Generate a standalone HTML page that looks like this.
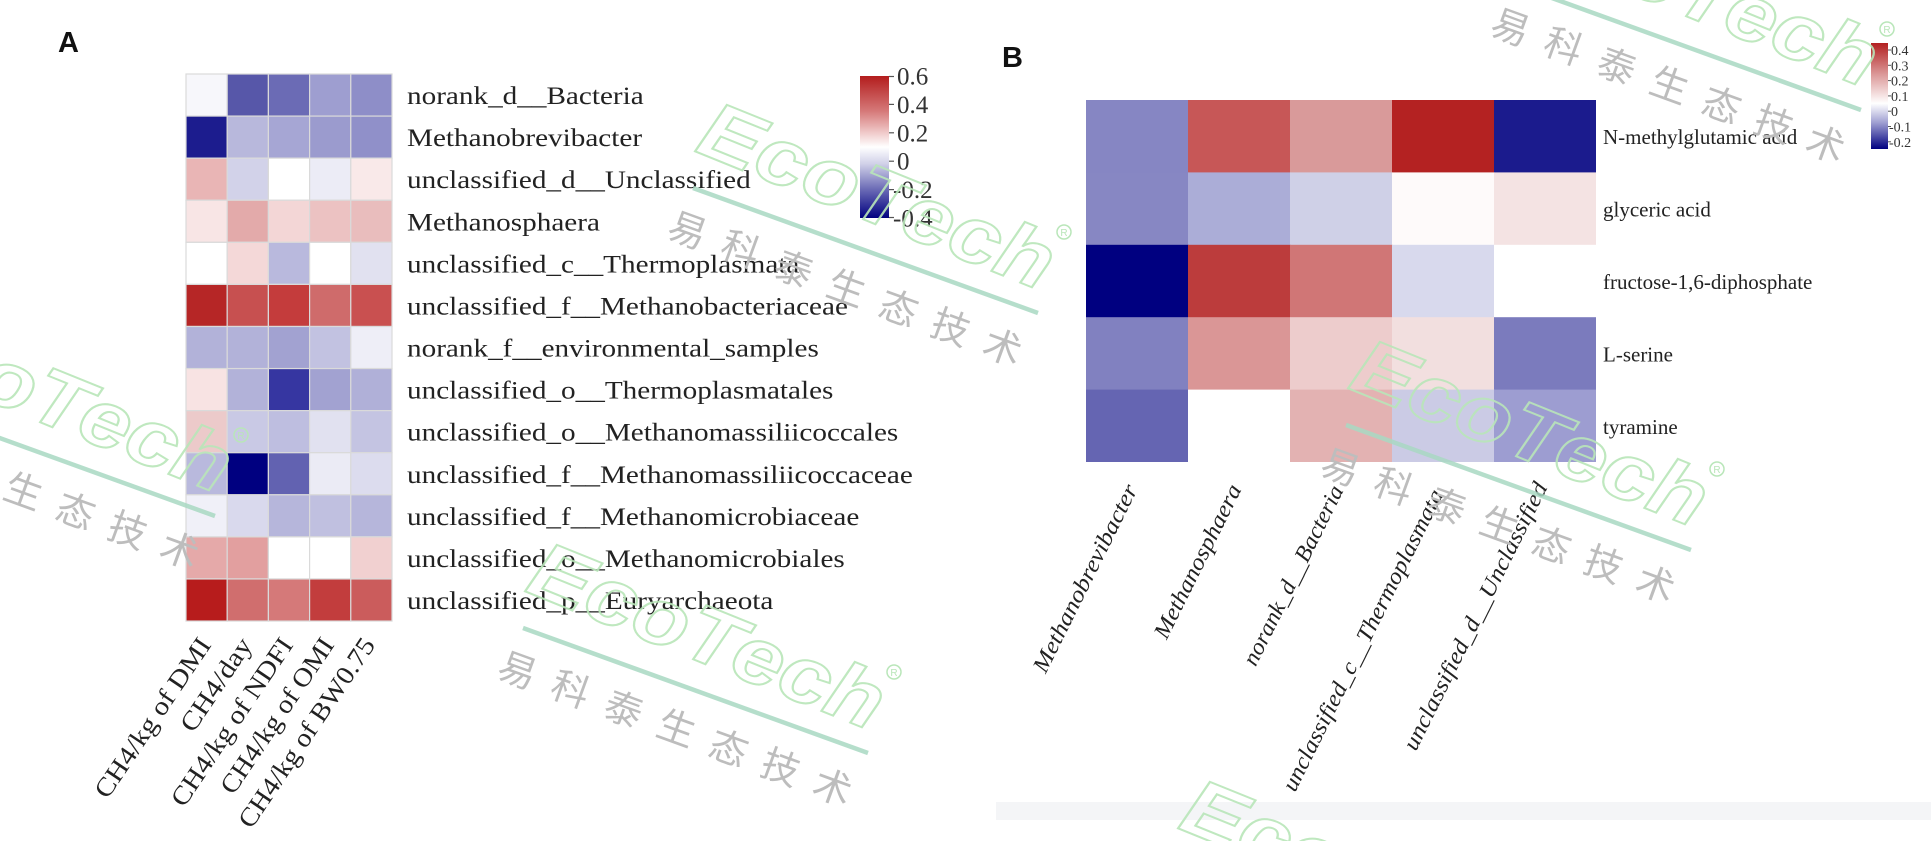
<!DOCTYPE html>
<html><head><meta charset="utf-8"><style>
html,body{margin:0;padding:0;background:#fff;width:1931px;height:841px;overflow:hidden;}
svg{display:block;}
</style></head><body>
<svg width="1931" height="841" viewBox="0 0 1931 841" xmlns="http://www.w3.org/2000/svg">
<defs>
<linearGradient id="cbA" x1="0" y1="0" x2="0" y2="1">
<stop offset="0" stop-color="#b31d1d"/><stop offset="0.25" stop-color="#d67a7a"/><stop offset="0.4" stop-color="#f0caca"/><stop offset="0.5" stop-color="#ffffff"/><stop offset="0.62" stop-color="#d0d0e8"/><stop offset="0.8" stop-color="#6a6ab5"/><stop offset="1" stop-color="#00007f"/>
</linearGradient>
<linearGradient id="cbB" x1="0" y1="0" x2="0" y2="1">
<stop offset="0" stop-color="#b22020"/><stop offset="0.3" stop-color="#dc9a9a"/><stop offset="0.57" stop-color="#ffffff"/><stop offset="0.75" stop-color="#a0a0d2"/><stop offset="1" stop-color="#000080"/>
</linearGradient>
<clipPath id="frame"><rect x="0" y="0" width="1931" height="841"/></clipPath>
</defs>
<rect width="1931" height="841" fill="#fff"/>

<!-- Panel labels -->
<text x="58" y="52" font-family="Liberation Sans, sans-serif" font-weight="bold" font-size="29" fill="#111">A</text>
<text x="1002" y="67" font-family="Liberation Sans, sans-serif" font-weight="bold" font-size="29" fill="#111">B</text>

<!-- Heatmap A -->
<g stroke="#dadada" stroke-width="1.2">
<rect x="186" y="74" width="41.2" height="42.08" fill="#f7f7fb"/><rect x="227.2" y="74" width="41.2" height="42.08" fill="#5757a9"/><rect x="268.4" y="74" width="41.2" height="42.08" fill="#6b6bb5"/><rect x="309.6" y="74" width="41.2" height="42.08" fill="#9e9ed0"/><rect x="350.8" y="74" width="41.2" height="42.08" fill="#8e8ec8"/>
<rect x="186" y="116.08" width="41.2" height="42.08" fill="#1c1c8e"/><rect x="227.2" y="116.08" width="41.2" height="42.08" fill="#b8b8dc"/><rect x="268.4" y="116.08" width="41.2" height="42.08" fill="#a6a6d4"/><rect x="309.6" y="116.08" width="41.2" height="42.08" fill="#9b9bce"/><rect x="350.8" y="116.08" width="41.2" height="42.08" fill="#9090c9"/>
<rect x="186" y="158.16" width="41.2" height="42.08" fill="#e9b5b5"/><rect x="227.2" y="158.16" width="41.2" height="42.08" fill="#d2d2e9"/><rect x="268.4" y="158.16" width="41.2" height="42.08" fill="#ffffff"/><rect x="309.6" y="158.16" width="41.2" height="42.08" fill="#ececf6"/><rect x="350.8" y="158.16" width="41.2" height="42.08" fill="#f9e9e9"/>
<rect x="186" y="200.24" width="41.2" height="42.08" fill="#f8e5e5"/><rect x="227.2" y="200.24" width="41.2" height="42.08" fill="#e3aaaa"/><rect x="268.4" y="200.24" width="41.2" height="42.08" fill="#f3d6d6"/><rect x="309.6" y="200.24" width="41.2" height="42.08" fill="#ecc2c2"/><rect x="350.8" y="200.24" width="41.2" height="42.08" fill="#e9bdbd"/>
<rect x="186" y="242.32" width="41.2" height="42.08" fill="#ffffff"/><rect x="227.2" y="242.32" width="41.2" height="42.08" fill="#f4d8d8"/><rect x="268.4" y="242.32" width="41.2" height="42.08" fill="#b9b9dd"/><rect x="309.6" y="242.32" width="41.2" height="42.08" fill="#ffffff"/><rect x="350.8" y="242.32" width="41.2" height="42.08" fill="#e1e1f0"/>
<rect x="186" y="284.4" width="41.2" height="42.08" fill="#b62626"/><rect x="227.2" y="284.4" width="41.2" height="42.08" fill="#c75050"/><rect x="268.4" y="284.4" width="41.2" height="42.08" fill="#c43c3c"/><rect x="309.6" y="284.4" width="41.2" height="42.08" fill="#cf6b6b"/><rect x="350.8" y="284.4" width="41.2" height="42.08" fill="#c95050"/>
<rect x="186" y="326.48" width="41.2" height="42.08" fill="#b2b2d9"/><rect x="227.2" y="326.48" width="41.2" height="42.08" fill="#b2b2d9"/><rect x="268.4" y="326.48" width="41.2" height="42.08" fill="#a2a2d1"/><rect x="309.6" y="326.48" width="41.2" height="42.08" fill="#c2c2e1"/><rect x="350.8" y="326.48" width="41.2" height="42.08" fill="#eeeef7"/>
<rect x="186" y="368.56" width="41.2" height="42.08" fill="#f8e3e3"/><rect x="227.2" y="368.56" width="41.2" height="42.08" fill="#b2b2d9"/><rect x="268.4" y="368.56" width="41.2" height="42.08" fill="#3636a1"/><rect x="309.6" y="368.56" width="41.2" height="42.08" fill="#a2a2d1"/><rect x="350.8" y="368.56" width="41.2" height="42.08" fill="#b0b0d8"/>
<rect x="186" y="410.64" width="41.2" height="42.08" fill="#eccaca"/><rect x="227.2" y="410.64" width="41.2" height="42.08" fill="#c9c9e5"/><rect x="268.4" y="410.64" width="41.2" height="42.08" fill="#bebee0"/><rect x="309.6" y="410.64" width="41.2" height="42.08" fill="#e1e1f0"/><rect x="350.8" y="410.64" width="41.2" height="42.08" fill="#c4c4e2"/>
<rect x="186" y="452.72" width="41.2" height="42.08" fill="#b9b9dd"/><rect x="227.2" y="452.72" width="41.2" height="42.08" fill="#000080"/><rect x="268.4" y="452.72" width="41.2" height="42.08" fill="#6262b1"/><rect x="309.6" y="452.72" width="41.2" height="42.08" fill="#ebebf5"/><rect x="350.8" y="452.72" width="41.2" height="42.08" fill="#dcdcee"/>
<rect x="186" y="494.8" width="41.2" height="42.08" fill="#f0f0f8"/><rect x="227.2" y="494.8" width="41.2" height="42.08" fill="#d9d9ed"/><rect x="268.4" y="494.8" width="41.2" height="42.08" fill="#b6b6db"/><rect x="309.6" y="494.8" width="41.2" height="42.08" fill="#c0c0e0"/><rect x="350.8" y="494.8" width="41.2" height="42.08" fill="#b6b6db"/>
<rect x="186" y="536.88" width="41.2" height="42.08" fill="#e5a9a9"/><rect x="227.2" y="536.88" width="41.2" height="42.08" fill="#e29f9f"/><rect x="268.4" y="536.88" width="41.2" height="42.08" fill="#ffffff"/><rect x="309.6" y="536.88" width="41.2" height="42.08" fill="#ffffff"/><rect x="350.8" y="536.88" width="41.2" height="42.08" fill="#f1d0d0"/>
<rect x="186" y="578.96" width="41.2" height="42.08" fill="#b71c1c"/><rect x="227.2" y="578.96" width="41.2" height="42.08" fill="#d06e6e"/><rect x="268.4" y="578.96" width="41.2" height="42.08" fill="#d57979"/><rect x="309.6" y="578.96" width="41.2" height="42.08" fill="#c23d3d"/><rect x="350.8" y="578.96" width="41.2" height="42.08" fill="#cb5c5c"/>
</g>

<!-- Row labels A -->
<g transform="translate(407,0) scale(1.145,1)" font-family="Liberation Serif, serif" font-size="25.5" fill="#222">
<text x="0" y="104">norank_d__Bacteria</text>
<text x="0" y="146.1">Methanobrevibacter</text>
<text x="0" y="188.2">unclassified_d__Unclassified</text>
<text x="0" y="230.3">Methanosphaera</text>
<text x="0" y="272.4">unclassified_c__Thermoplasmata</text>
<text x="0" y="314.4">unclassified_f__Methanobacteriaceae</text>
<text x="0" y="356.5">norank_f__environmental_samples</text>
<text x="0" y="398.6">unclassified_o__Thermoplasmatales</text>
<text x="0" y="440.7">unclassified_o__Methanomassiliicoccales</text>
<text x="0" y="482.8">unclassified_f__Methanomassiliicoccaceae</text>
<text x="0" y="524.8">unclassified_f__Methanomicrobiaceae</text>
<text x="0" y="566.9">unclassified_o__Methanomicrobiales</text>
<text x="0" y="609">unclassified_p__Euryarchaeota</text>
</g>

<!-- Column labels A -->
<g font-family="Liberation Serif, serif" font-size="26" fill="#222" text-anchor="end">
<text transform="translate(212,645) rotate(-56)" textLength="187" lengthAdjust="spacingAndGlyphs">CH4/kg of DMI</text>
<text transform="translate(253,645) rotate(-56)" textLength="107" lengthAdjust="spacingAndGlyphs">CH4/day</text>
<text transform="translate(294,645) rotate(-56)" textLength="197" lengthAdjust="spacingAndGlyphs">CH4/kg of NDFI</text>
<text transform="translate(335,645) rotate(-56)" textLength="182" lengthAdjust="spacingAndGlyphs">CH4/kg of OMI</text>
<text transform="translate(376,645) rotate(-56)" textLength="223" lengthAdjust="spacingAndGlyphs">CH4/kg of BW0.75</text>
</g>

<!-- Colorbar A -->
<rect x="860" y="76" width="29" height="142" fill="url(#cbA)"/>
<g stroke="#555" stroke-width="1.2">
<line x1="889" y1="76.5" x2="894" y2="76.5"/><line x1="889" y1="104.4" x2="894" y2="104.4"/><line x1="889" y1="132.8" x2="894" y2="132.8"/><line x1="889" y1="161.2" x2="894" y2="161.2"/><line x1="889" y1="189.6" x2="894" y2="189.6"/><line x1="889" y1="217.5" x2="894" y2="217.5"/>
</g>
<g font-family="Liberation Serif, serif" font-size="25" fill="#333">
<text x="897" y="84.5">0.6</text>
<text x="897" y="112.9">0.4</text>
<text x="897" y="141.3">0.2</text>
<text x="897" y="169.7">0</text>
<text x="893" y="198.1">-0.2</text>
<text x="893" y="226.5">-0.4</text>
</g>

<!-- Heatmap B -->
<g>
<rect x="1086" y="100" width="102.5" height="72.9" fill="#8686c3"/><rect x="1188" y="100" width="102.5" height="72.9" fill="#c75757"/><rect x="1290" y="100" width="102.5" height="72.9" fill="#d99a9a"/><rect x="1392" y="100" width="102.5" height="72.9" fill="#b42222"/><rect x="1494" y="100" width="102" height="72.9" fill="#1b1b8d"/>
<rect x="1086" y="172.4" width="102.5" height="72.9" fill="#8787c3"/><rect x="1188" y="172.4" width="102.5" height="72.9" fill="#abadd7"/><rect x="1290" y="172.4" width="102.5" height="72.9" fill="#cfd0e7"/><rect x="1392" y="172.4" width="102.5" height="72.9" fill="#fefafa"/><rect x="1494" y="172.4" width="102" height="72.9" fill="#f4e3e3"/>
<rect x="1086" y="244.8" width="102.5" height="72.9" fill="#000080"/><rect x="1188" y="244.8" width="102.5" height="72.9" fill="#bc3c3c"/><rect x="1290" y="244.8" width="102.5" height="72.9" fill="#d07676"/><rect x="1392" y="244.8" width="102.5" height="72.9" fill="#d8d9ed"/><rect x="1494" y="244.8" width="102" height="72.9" fill="#ffffff"/>
<rect x="1086" y="317.2" width="102.5" height="72.9" fill="#8181c0"/><rect x="1188" y="317.2" width="102.5" height="72.9" fill="#da9696"/><rect x="1290" y="317.2" width="102.5" height="72.9" fill="#edcccc"/><rect x="1392" y="317.2" width="102.5" height="72.9" fill="#f2dfdf"/><rect x="1494" y="317.2" width="102" height="72.9" fill="#7b7bbd"/>
<rect x="1086" y="389.6" width="102.5" height="72.4" fill="#6565b2"/><rect x="1188" y="389.6" width="102.5" height="72.4" fill="#ffffff"/><rect x="1290" y="389.6" width="102.5" height="72.4" fill="#e3b2b2"/><rect x="1392" y="389.6" width="102.5" height="72.4" fill="#cbcbe5"/><rect x="1494" y="389.6" width="102" height="72.4" fill="#9d9dd1"/>
</g>

<!-- Row labels B -->
<g font-family="Liberation Serif, serif" font-size="21" fill="#222">
<text x="1603" y="144.2">N-methylglutamic acid</text>
<text x="1603" y="216.6">glyceric acid</text>
<text x="1603" y="289">fructose-1,6-diphosphate</text>
<text x="1603" y="361.4">L-serine</text>
<text x="1603" y="433.8">tyramine</text>
</g>

<!-- Column labels B -->
<g font-family="Liberation Serif, serif" font-style="italic" font-size="23" fill="#222" text-anchor="end">
<text transform="translate(1138,489) rotate(-63.5)" textLength="207" lengthAdjust="spacingAndGlyphs">Methanobrevibacter</text>
<text transform="translate(1242,489) rotate(-63.5)" textLength="169" lengthAdjust="spacingAndGlyphs">Methanosphaera</text>
<text transform="translate(1344,490) rotate(-63.5)" textLength="198" lengthAdjust="spacingAndGlyphs">norank_d__Bacteria</text>
<text transform="translate(1444,494) rotate(-63.5)" textLength="334" lengthAdjust="spacingAndGlyphs">unclassified_c__Thermoplasmata</text>
<text transform="translate(1548,487) rotate(-63.5)" textLength="296" lengthAdjust="spacingAndGlyphs">unclassified_d__Unclassified</text>
</g>

<!-- Colorbar B -->
<rect x="1871" y="43" width="17" height="106" fill="url(#cbB)"/>
<g stroke="#555" stroke-width="1">
<line x1="1888" y1="50" x2="1891" y2="50"/><line x1="1888" y1="65.3" x2="1891" y2="65.3"/><line x1="1888" y1="80.6" x2="1891" y2="80.6"/><line x1="1888" y1="95.9" x2="1891" y2="95.9"/><line x1="1888" y1="111.2" x2="1891" y2="111.2"/><line x1="1888" y1="126.5" x2="1891" y2="126.5"/><line x1="1888" y1="141.8" x2="1891" y2="141.8"/>
</g>
<g font-family="Liberation Serif, serif" font-size="14" fill="#333">
<text x="1891" y="55">0.4</text>
<text x="1891" y="70.3">0.3</text>
<text x="1891" y="85.6">0.2</text>
<text x="1891" y="100.9">0.1</text>
<text x="1891" y="116.2">0</text>
<text x="1889" y="131.5">-0.1</text>
<text x="1889" y="146.8">-0.2</text>
</g>

<!-- gray bar -->
<rect x="996" y="802" width="935" height="18" fill="#f4f5f7"/>

<!-- Watermarks -->
<g clip-path="url(#frame)">
<g>
<line x1="693" y1="188" x2="1038" y2="313" stroke="#a9d9c3" stroke-width="4.5" opacity="0.85"/>
<text transform="translate(878,195) rotate(22)" x="0" y="28" text-anchor="middle" textLength="375" lengthAdjust="spacingAndGlyphs" font-family="Liberation Sans, sans-serif" font-weight="bold" font-style="italic" font-size="80" fill="none" stroke="#b9e6b9" stroke-width="2" opacity="0.9">EcoTech</text>
<circle cx="1064" cy="232" r="7" fill="none" stroke="#b9e6b9" stroke-width="1.5"/>
<text x="1064" y="236" text-anchor="middle" font-family="Liberation Sans, sans-serif" font-size="10" fill="#b9e6b9">R</text>
<g font-family="Liberation Sans, 'Noto Sans CJK SC', sans-serif" font-size="38" fill="#bdbdbd" text-anchor="middle">
<text transform="translate(683,243) rotate(20)">易</text>
<text transform="translate(736,262) rotate(20)">科</text>
<text transform="translate(789,282) rotate(20)">泰</text>
<text transform="translate(842,301) rotate(20)">生</text>
<text transform="translate(894,321) rotate(20)">态</text>
<text transform="translate(946,340) rotate(20)">技</text>
<text transform="translate(998,360) rotate(20)">术</text>
</g>
</g>
<g transform="translate(-823,203)">
<line x1="693" y1="188" x2="1038" y2="313" stroke="#a9d9c3" stroke-width="4.5" opacity="0.85"/>
<text transform="translate(878,195) rotate(22)" x="0" y="28" text-anchor="middle" textLength="375" lengthAdjust="spacingAndGlyphs" font-family="Liberation Sans, sans-serif" font-weight="bold" font-style="italic" font-size="80" fill="none" stroke="#b9e6b9" stroke-width="2" opacity="0.9">EcoTech</text>
<circle cx="1064" cy="232" r="7" fill="none" stroke="#b9e6b9" stroke-width="1.5"/>
<text x="1064" y="236" text-anchor="middle" font-family="Liberation Sans, sans-serif" font-size="10" fill="#b9e6b9">R</text>
<g font-family="Liberation Sans, 'Noto Sans CJK SC', sans-serif" font-size="38" fill="#bdbdbd" text-anchor="middle">
<text transform="translate(683,243) rotate(20)">易</text>
<text transform="translate(736,262) rotate(20)">科</text>
<text transform="translate(789,282) rotate(20)">泰</text>
<text transform="translate(842,301) rotate(20)">生</text>
<text transform="translate(894,321) rotate(20)">态</text>
<text transform="translate(946,340) rotate(20)">技</text>
<text transform="translate(998,360) rotate(20)">术</text>
</g>
</g>
<g transform="translate(-170,440)">
<line x1="693" y1="188" x2="1038" y2="313" stroke="#a9d9c3" stroke-width="4.5" opacity="0.85"/>
<text transform="translate(878,195) rotate(22)" x="0" y="28" text-anchor="middle" textLength="375" lengthAdjust="spacingAndGlyphs" font-family="Liberation Sans, sans-serif" font-weight="bold" font-style="italic" font-size="80" fill="none" stroke="#b9e6b9" stroke-width="2" opacity="0.9">EcoTech</text>
<circle cx="1064" cy="232" r="7" fill="none" stroke="#b9e6b9" stroke-width="1.5"/>
<text x="1064" y="236" text-anchor="middle" font-family="Liberation Sans, sans-serif" font-size="10" fill="#b9e6b9">R</text>
<g font-family="Liberation Sans, 'Noto Sans CJK SC', sans-serif" font-size="38" fill="#bdbdbd" text-anchor="middle">
<text transform="translate(683,243) rotate(20)">易</text>
<text transform="translate(736,262) rotate(20)">科</text>
<text transform="translate(789,282) rotate(20)">泰</text>
<text transform="translate(842,301) rotate(20)">生</text>
<text transform="translate(894,321) rotate(20)">态</text>
<text transform="translate(946,340) rotate(20)">技</text>
<text transform="translate(998,360) rotate(20)">术</text>
</g>
</g>
<g transform="translate(823,-203)">
<line x1="693" y1="188" x2="1038" y2="313" stroke="#a9d9c3" stroke-width="4.5" opacity="0.85"/>
<text transform="translate(878,195) rotate(22)" x="0" y="28" text-anchor="middle" textLength="375" lengthAdjust="spacingAndGlyphs" font-family="Liberation Sans, sans-serif" font-weight="bold" font-style="italic" font-size="80" fill="none" stroke="#b9e6b9" stroke-width="2" opacity="0.9">EcoTech</text>
<circle cx="1064" cy="232" r="7" fill="none" stroke="#b9e6b9" stroke-width="1.5"/>
<text x="1064" y="236" text-anchor="middle" font-family="Liberation Sans, sans-serif" font-size="10" fill="#b9e6b9">R</text>
<g font-family="Liberation Sans, 'Noto Sans CJK SC', sans-serif" font-size="38" fill="#bdbdbd" text-anchor="middle">
<text transform="translate(683,243) rotate(20)">易</text>
<text transform="translate(736,262) rotate(20)">科</text>
<text transform="translate(789,282) rotate(20)">泰</text>
<text transform="translate(842,301) rotate(20)">生</text>
<text transform="translate(894,321) rotate(20)">态</text>
<text transform="translate(946,340) rotate(20)">技</text>
<text transform="translate(998,360) rotate(20)">术</text>
</g>
</g>
<g transform="translate(653,237)">
<line x1="693" y1="188" x2="1038" y2="313" stroke="#a9d9c3" stroke-width="4.5" opacity="0.85"/>
<text transform="translate(878,195) rotate(22)" x="0" y="28" text-anchor="middle" textLength="375" lengthAdjust="spacingAndGlyphs" font-family="Liberation Sans, sans-serif" font-weight="bold" font-style="italic" font-size="80" fill="none" stroke="#b9e6b9" stroke-width="2" opacity="0.9">EcoTech</text>
<circle cx="1064" cy="232" r="7" fill="none" stroke="#b9e6b9" stroke-width="1.5"/>
<text x="1064" y="236" text-anchor="middle" font-family="Liberation Sans, sans-serif" font-size="10" fill="#b9e6b9">R</text>
<g font-family="Liberation Sans, 'Noto Sans CJK SC', sans-serif" font-size="38" fill="#bdbdbd" text-anchor="middle">
<text transform="translate(683,243) rotate(20)">易</text>
<text transform="translate(736,262) rotate(20)">科</text>
<text transform="translate(789,282) rotate(20)">泰</text>
<text transform="translate(842,301) rotate(20)">生</text>
<text transform="translate(894,321) rotate(20)">态</text>
<text transform="translate(946,340) rotate(20)">技</text>
<text transform="translate(998,360) rotate(20)">术</text>
</g>
</g>
<g transform="translate(483,677)">
<text transform="translate(878,195) rotate(22)" x="0" y="28" text-anchor="middle" textLength="375" lengthAdjust="spacingAndGlyphs" font-family="Liberation Sans, sans-serif" font-weight="bold" font-style="italic" font-size="80" fill="none" stroke="#b9e6b9" stroke-width="2" opacity="0.9">EcoTech</text>
</g>
</g>
</svg>
</body></html>
